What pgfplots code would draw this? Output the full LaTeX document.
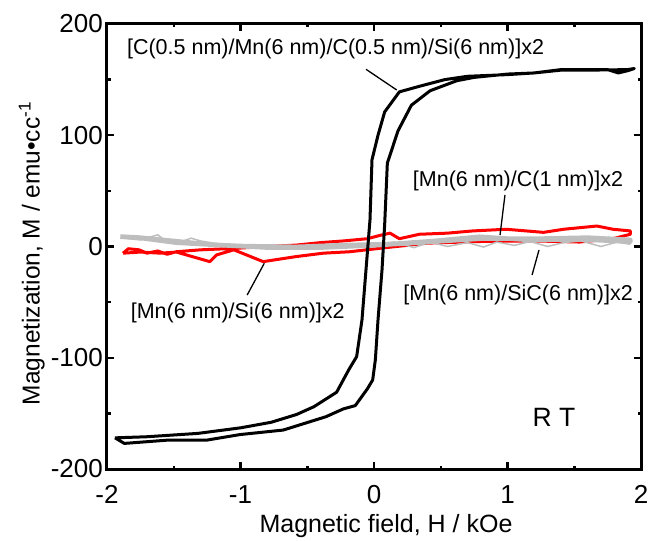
\documentclass[border=0pt]{standalone}
\usepackage{fontspec}
\setmainfont{Liberation Sans}
\usepackage{pgfplots}
\pgfplotsset{compat=1.18}

\definecolor{lgray}{RGB}{190,190,190}

\begin{document}
\begin{tikzpicture}
\begin{axis}[
    name=ax,
    scale only axis,
    width=534pt, height=445pt,
    xmin=-2, xmax=2, ymin=-200, ymax=200,
    xtick={-2,-1,0,1,2}, xticklabels={-2,-1,0,1,2},
    ytick={-200,-100,0,100,200}, yticklabels={-200,-100,0,100,200},
    minor x tick num=1, minor y tick num=1,
    tick align=inside,
    major tick length=7pt, minor tick length=3.5pt,
    every tick/.style={black, line width=2.5pt},
    axis line style={line width=3pt},
    ticklabel style={font=\fontsize{26}{26}\selectfont, inner sep=0pt},
    xticklabel style={anchor=north, yshift=-16pt},
    yticklabel style={anchor=east, xshift=-4pt},
    xlabel={Magnetic field, H / kOe},
    ylabel={Magnetization, M / emu•cc\textsuperscript{-1}},
    xlabel style={at={([xshift=12pt,yshift=-45pt]axis description cs:0.5,0)}, anchor=north, inner sep=0pt, font=\fontsize{25}{25}\selectfont},
    ylabel style={at={([xshift=-62pt,yshift=-7pt]axis description cs:0,0.5)}, anchor=south, inner sep=0pt, font=\fontsize{24.5}{25}\selectfont},
    clip=true,
]
% [Mn(6 nm)/Si(6 nm)]x2
\addplot[red, line width=3pt, line join=round] coordinates {
 (-1.88,-6) (-1.84,-2) (-1.76,-3) (-1.70,-6) (-1.62,-4) (-1.55,-7) (-1.48,-4.7)
 (-1.30,-3) (-1.03,-1.6) (-0.80,0) (-0.58,1.3) (-0.40,3.5) (-0.23,5) (-0.05,7)
 (0.045,10) (0.12,12) (0.19,7) (0.34,11) (0.55,12) (0.74,14) (0.99,15.5)
 (1.27,12.7) (1.42,15.5) (1.67,18.4) (1.79,15.5) (1.92,14)
 (1.92,11) (1.79,7) (1.54,4) (1.20,5) (0.80,4.5) (0.40,3) (0.045,-1.6)
 (-0.18,-4.7) (-0.38,-6) (-0.58,-9) (-0.83,-13.6) (-1.05,-3) (-1.18,-7.6)
 (-1.23,-13.6) (-1.48,-5) (-1.60,-6) (-1.75,-5) (-1.88,-6)
};
% [Mn(6 nm)/SiC(6 nm)]x2
\addplot[lgray, line width=1.5pt] coordinates {
 (-1.90,8) (-1.75,6) (-1.62,10.5) (-1.57,6) (-1.45,4) (-1.37,7.5) (-1.30,5)
 (-1.20,3) (-1.00,1) (-0.80,-0.5) (-0.60,-1) (-0.40,0) (-0.20,1) (0.00,2)
 (0.15,4) (0.30,-1) (0.42,4) (0.55,0) (0.70,3.5) (0.82,-0.5) (0.92,4)
 (1.05,1) (1.17,4.5) (1.30,0) (1.42,3.5) (1.55,5) (1.70,0) (1.82,4) (1.92,2)
};
% [Mn(6 nm)/C(1 nm)]x2
\addplot[lgray, line width=4.5pt, line join=round] coordinates {
 (-1.90,8.8) (-1.73,7.3) (-1.48,3.4) (-1.20,1.5) (-0.98,0.4) (-0.58,-0.3)
 (-0.23,1.3) (0.12,2.2) (0.45,5) (0.79,8.8) (1.17,5.8) (1.54,6.4) (1.92,4.3)
 (1.92,6) (1.60,8) (1.20,7) (0.80,7) (0.40,4) (0.00,1) (-0.40,-1) (-0.80,-1)
 (-1.20,1.5) (-1.50,5) (-1.75,8) (-1.90,9)
};
% [C(0.5 nm)/Mn(6 nm)/C(0.5 nm)/Si(6 nm)]x2
\addplot[black, line width=3pt, line join=round] coordinates {
 (-1.94,-172) (-1.87,-177) (-1.54,-174) (-1.25,-174) (-1.00,-169) (-0.68,-165)
 (-0.36,-153) (-0.23,-146) (-0.14,-143) (-0.05,-128) (-0.01,-120) (0.01,-102)
 (0.03,-66) (0.06,-21) (0.08,20) (0.10,75) (0.18,104) (0.28,127) (0.42,140)
 (0.62,149) (0.75,152) (1.00,155) (1.20,156) (1.40,159) (1.60,159) (1.75,159)
 (1.83,156) (1.90,158) (1.95,160)
 (1.90,159) (1.60,158.5) (1.40,158.5) (1.20,156) (1.00,154.5) (0.70,153)
 (0.53,150) (0.34,144) (0.19,139) (0.08,121) (0.03,100) (-0.015,78)
 (-0.03,24) (-0.06,-21) (-0.09,-66) (-0.13,-99) (-0.19,-111) (-0.28,-131)
 (-0.45,-144) (-0.58,-151) (-0.77,-158) (-1.00,-163) (-1.32,-168)
 (-1.70,-171) (-1.94,-172)
};
% annotations
\begin{scope}[font=\fontsize{21.5}{22}\selectfont]
\node[inner sep=0pt] at (axis cs:-0.288,177.5) {[C(0.5 nm)/Mn(6 nm)/C(0.5 nm)/Si(6 nm)]x2};
\node[inner sep=0pt] at (axis cs:1.079,58.9) {[Mn(6 nm)/C(1 nm)]x2};
\node[inner sep=0pt] at (axis cs:1.079,-43.6) {[Mn(6 nm)/SiC(6 nm)]x2};
\node[inner sep=0pt] at (axis cs:-1.021,-59.3) {[Mn(6 nm)/Si(6 nm)]x2};
\end{scope}
\node[inner sep=0pt, font=\fontsize{26.5}{27}\selectfont] at (axis cs:1.348,-153.7) {R T};
\draw[line width=1.3pt] (axis cs:-0.06,159.3) -- (axis cs:0.17,140.7);
\draw[line width=1.3pt] (axis cs:0.981,46.3) -- (axis cs:0.944,10.3);
\draw[line width=1.3pt] (axis cs:1.236,-3.1) -- (axis cs:1.184,-25.6);
\draw[line width=1.3pt] (axis cs:-0.95,-43.6) -- (axis cs:-0.822,-15.1);
\end{axis}
\pgfresetboundingbox
\path[use as bounding box] ([xshift=-107pt,yshift=-71pt]ax.south west) rectangle ([xshift=24pt,yshift=24pt]ax.north east);
\end{tikzpicture}
\end{document}
